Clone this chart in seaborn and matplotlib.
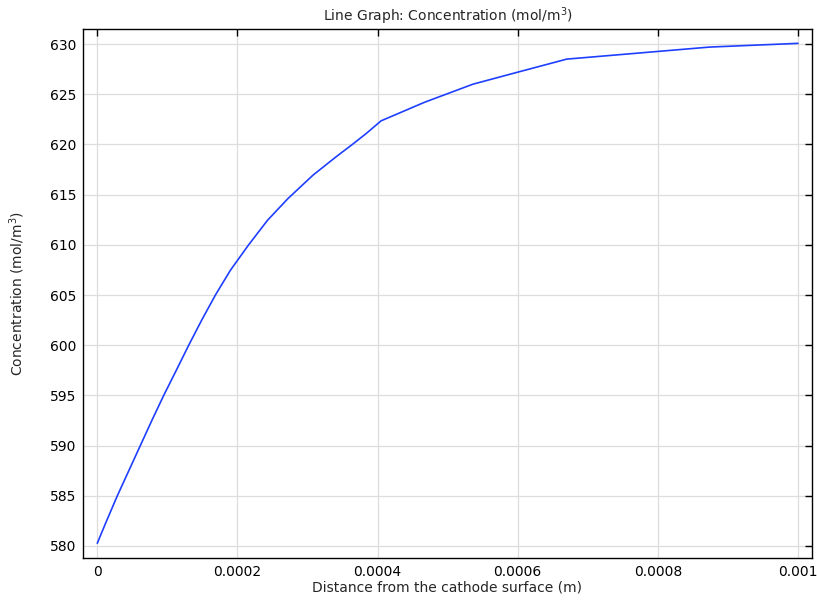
import matplotlib
matplotlib.use("Agg")
import matplotlib.pyplot as plt
import seaborn as sns
import pandas as pd

distance = [0, 0.0000118, 0.0000286, 0.0000448, 0.0000614, 0.0000781,
            0.0000948, 0.0001129, 0.0001305, 0.000149, 0.0001686, 0.00019,
            0.000216, 0.000243, 0.000272, 0.000308, 0.000341,
            0.000364, 0.000384, 0.000405, 0.000467, 0.000536, 0.0006,
            0.00067, 0.000874, 0.001]
concentration = [580.27, 582.26, 585.0, 587.47, 590.0, 592.54,
                 595.0, 597.52, 600.0, 602.5, 605.0, 607.47,
                 610.0, 612.45, 614.6, 616.95, 618.78,
                 620.0, 621.1, 622.35, 624.2, 626.0, 627.2,
                 628.5, 629.7, 630.07]
xticks = [0, 0.0002, 0.0004, 0.0006, 0.0008, 0.001]
xticklabels = ["0", "0.0002", "0.0004", "0.0006", "0.0008", "0.001"]
yticks = [580, 585, 590, 595, 600, 605, 610, 615, 620, 625, 630]

sns.set_style("white")
plt.rcParams['font.family'] = ['DejaVu Sans']

df = pd.DataFrame({"x": distance, "y": concentration})

fig = plt.figure(figsize=(8.17, 6.0), dpi=100)
ax = fig.add_axes([83/817, 1 - 558/600, (812-83)/817, (558-29)/600])
sns.lineplot(data=df, x="x", y="y", ax=ax, color="#1f3fff", linewidth=1.2)

ax.set_xlim(-0.0000204, 0.00102)
ax.set_ylim(578.8, 631.5)
ax.set_xticks(xticks)
ax.set_xticklabels(xticklabels)
ax.set_yticks(yticks)
ax.grid(True, color="#dddddd", linewidth=0.9)
ax.set_axisbelow(True)
for s in ax.spines.values():
    s.set_color("black")
    s.set_linewidth(1.0)
ax.tick_params(direction="in", length=5, width=1, top=True, right=True,
               labelsize=10, colors="black", pad=5)
ax.tick_params(axis="y", labelright=False)
ax.tick_params(axis="x", labeltop=False)
ax.set_xlabel("Distance from the cathode surface (m)", fontsize=10, labelpad=1)
ax.set_ylabel("Concentration (mol/m$^3$)", fontsize=10, labelpad=16)
ax.set_title("Line Graph: Concentration (mol/m$^3$)", fontsize=10, pad=6)

fig.savefig("out.png", dpi=100, facecolor="white")
